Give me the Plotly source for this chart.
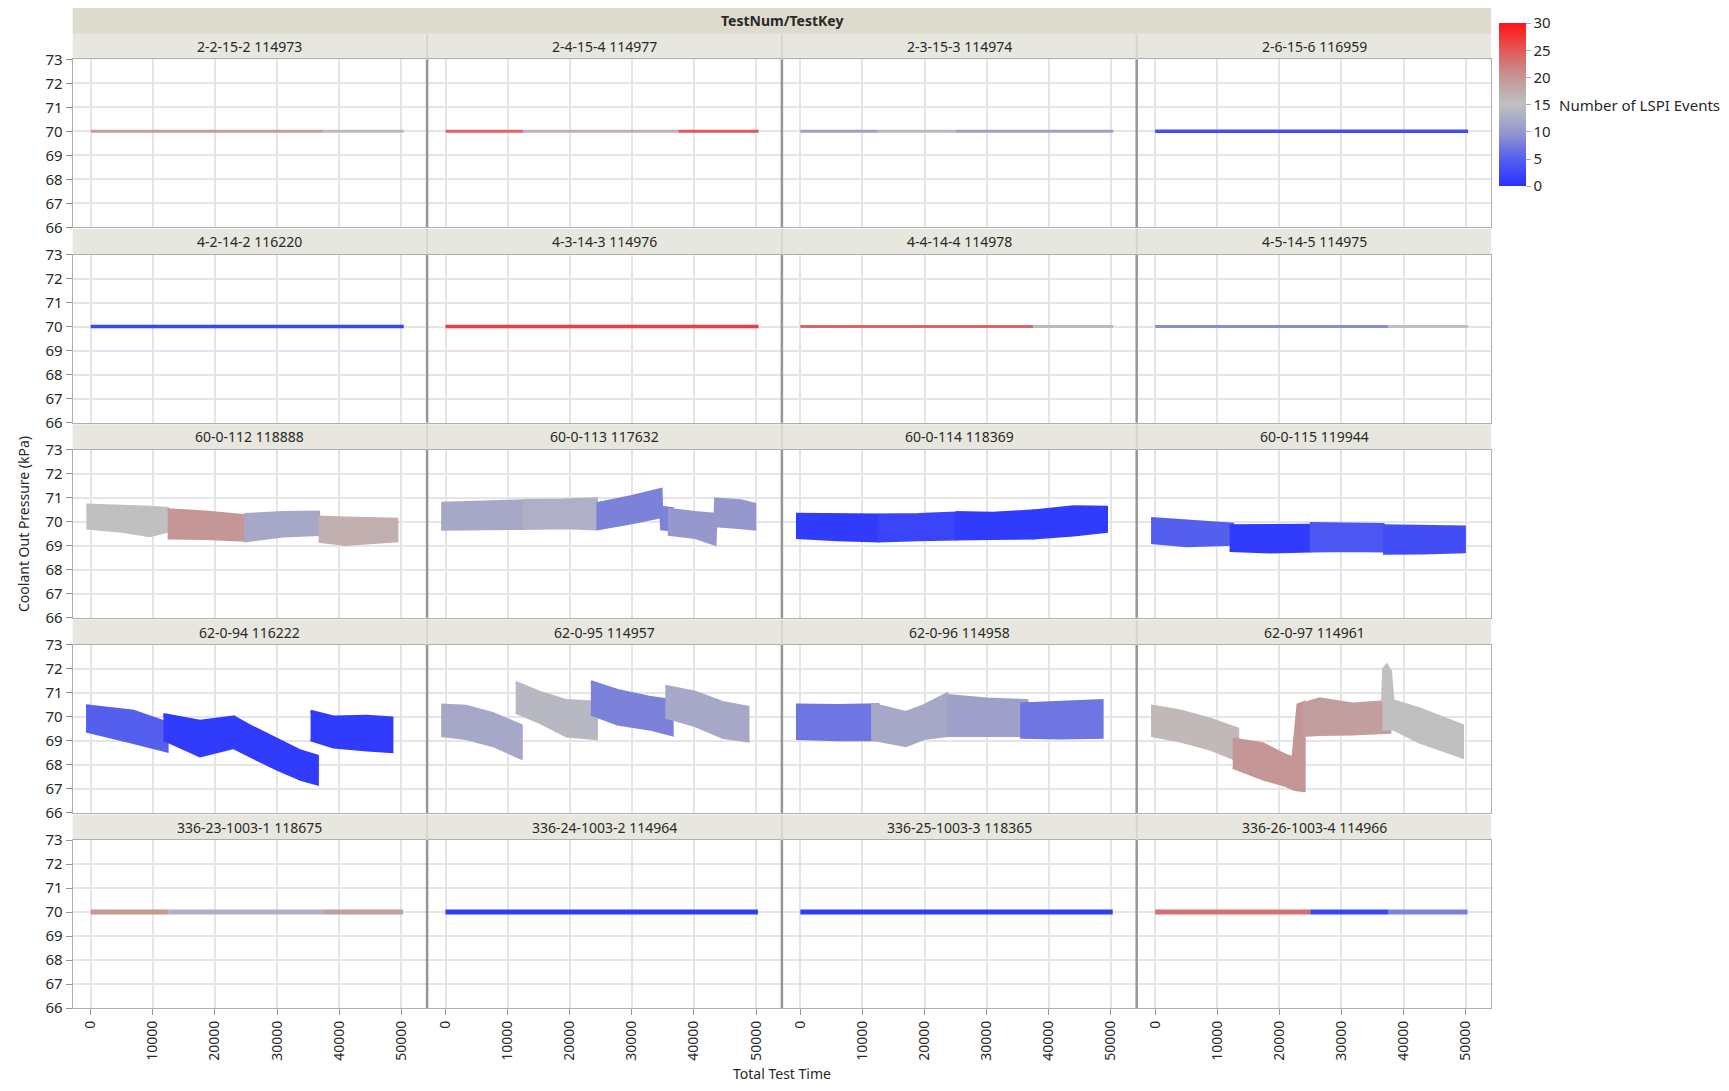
import plotly.graph_objects as go
from plotly.colors import sample_colorscale

PAGE_W, PAGE_H = 1729, 1091
BODY_MARGIN = 8
W, H = PAGE_W - 2 * BODY_MARGIN, PAGE_H - 2 * BODY_MARGIN

PANEL_TITLES = [
    "2-2-15-2 114973", "2-4-15-4 114977", "2-3-15-3 114974", "2-6-15-6 116959",
    "4-2-14-2 116220", "4-3-14-3 114976", "4-4-14-4 114978", "4-5-14-5 114975",
    "60-0-112 118888", "60-0-113 117632", "60-0-114 118369", "60-0-115 119944",
    "62-0-94 116222", "62-0-95 114957", "62-0-96 114958", "62-0-97 114961",
    "336-23-1003-1 118675", "336-24-1003-2 114964", "336-25-1003-3 118365", "336-26-1003-4 114966",
]
Y_TICKS = [66, 67, 68, 69, 70, 71, 72, 73]
X_TICKS = [0, 10000, 20000, 30000, 40000, 50000]
X_TICK_LABELS = ["0", "10000", "20000", "30000", "40000", "50000"]
LSPI_TICKS = [0, 5, 10, 15, 20, 25, 30]
LINE_LEVEL = 70.0

# thin-line panels: (LSPI events, start time, end time) at the constant pressure level
lines_2_2_15_2 = [(19, 0, 37500), (16, 37500, 50400)]
lines_2_4_15_4 = [(24, 0, 12500), (17, 12500, 37500), (25, 37500, 50400)]
lines_2_3_15_3 = [(11, 0, 12500), (14, 12500, 25000), (11, 25000, 50400)]
lines_2_6_15_6 = [(3, 0, 50400)]
lines_4_2_14_2 = [(2, 0, 50400)]
lines_4_3_14_3 = [(27, 0, 50400)]
lines_4_4_14_4 = [(24, 0, 37500), (16, 37500, 50400)]
lines_4_5_14_5 = [(9, 0, 37500), (15, 37500, 50400)]
lines_336_23 = [(20, 0, 12500), (13, 12500, 37500), (19, 37500, 50300)]
lines_336_24 = [(1, 0, 50300)]
lines_336_25 = [(1, 0, 50300)]
lines_336_26 = [(23, 0, 25000), (2, 25000, 37500), (8, 37500, 50300)]

# band panels: (LSPI events, times, upper pressure, lower pressure)
band_60_0_112 = [
    (15, [-700, 5000, 9500, 12400], [70.7, 70.65, 70.6, 70.55], [69.74, 69.6, 69.42, 69.6]),
    (20, [12400, 18500, 24700], [70.5, 70.4, 70.25], [69.32, 69.3, 69.23]),
    (12, [24700, 31000, 36700], [70.3, 70.38, 70.4], [69.2, 69.4, 69.46]),
    (17, [36700, 41000, 49300], [70.2, 70.15, 70.1], [69.19, 69.05, 69.2]),
]
band_60_0_113 = [
    (12, [-700, 6000, 12500], [70.77, 70.82, 70.87], [69.69, 69.7, 69.72]),
    (13, [12500, 19000, 24300], [70.88, 70.9, 70.95], [69.72, 69.75, 69.7]),
    (8, [24300, 30000, 34700, 34800, 36500], [70.75, 71.05, 71.35, 70.6, 70.55], [69.7, 69.95, 70.2, 69.7, 69.65]),
    (10, [35800, 40200, 43400, 43500, 47600, 49800], [70.52, 70.38, 70.31, 70.94, 70.87, 70.73], [69.48, 69.34, 69.06, 69.83, 69.75, 69.69]),
]
band_60_0_114 = [
    (1, [-700, 6000, 12500], [70.31, 70.3, 70.28], [69.34, 69.25, 69.2]),
    (2, [12500, 19000, 25000], [70.28, 70.3, 70.36], [69.2, 69.25, 69.28]),
    (1, [25000, 31000, 37500], [70.38, 70.35, 70.45], [69.28, 69.3, 69.32]),
    (1, [37500, 44000, 49300], [70.45, 70.62, 70.6], [69.32, 69.45, 69.6]),
]
band_60_0_115 = [
    (5, [-650, 5000, 12500], [70.13, 70.04, 69.9], [69.13, 69.0, 69.06]),
    (1, [12000, 18500, 24900], [69.83, 69.85, 69.85], [68.8, 68.74, 68.78]),
    (4, [24900, 31000, 36700], [69.92, 69.9, 69.88], [68.78, 68.8, 68.78]),
    (3, [36700, 43000, 49800], [69.83, 69.8, 69.78], [68.69, 68.7, 68.75]),
]
band_62_0_94 = [
    (5, [-750, 6900, 12300], [70.47, 70.24, 69.75], [69.41, 68.93, 68.58]),
    (1, [11700, 17600, 23000], [70.1, 69.82, 70.0], [69.06, 68.37, 68.72]),
    (1, [23000, 26200, 30000, 33800, 36500], [70.0, 69.55, 69.06, 68.58, 68.37], [68.72, 68.3, 67.82, 67.4, 67.2]),
    (1, [35400, 39100, 44500, 48500], [70.24, 70.0, 70.03, 69.96], [69.05, 68.75, 68.62, 68.55]),
]
band_62_0_95 = [
    (12, [-700, 3300, 7700, 12200], [70.5, 70.44, 70.13, 69.64], [69.22, 69.1, 68.8, 68.28]),
    (14, [11300, 15100, 19500, 24300], [71.44, 71.03, 70.68, 70.61], [70.19, 69.78, 69.2, 69.1]),
    (8, [23400, 27700, 32800, 36500], [71.47, 71.1, 70.82, 70.68], [70.12, 69.7, 69.5, 69.25]),
    (12, [35400, 40200, 44600, 48700], [71.28, 71.03, 70.6, 70.4], [69.99, 69.64, 69.15, 69.0]),
]
band_62_0_96 = [
    (7, [-700, 6000, 12500], [70.5, 70.47, 70.5], [69.1, 69.05, 69.05]),
    (12, [11400, 17000, 19900, 23600], [70.54, 70.19, 70.47, 70.96], [69.08, 68.8, 69.1, 69.22]),
    (11, [23600, 30000, 36500], [70.89, 70.75, 70.68], [69.22, 69.22, 69.22]),
    (7, [35400, 42000, 48600], [70.54, 70.62, 70.68], [69.15, 69.12, 69.15]),
]
band_62_0_97 = [
    (16, [-650, 3900, 8750, 13300], [70.45, 70.26, 69.92, 69.5], [69.22, 69.0, 68.67, 68.2]),
    (20, [12500, 17300, 21100, 22200, 23000, 24000], [69.08, 68.88, 68.39, 68.3, 70.5, 70.6], [67.9, 67.42, 67.14, 67.0, 66.95, 66.93]),
    (19, [23800, 26500, 31800, 37800], [70.54, 70.75, 70.54, 70.65], [69.22, 69.27, 69.29, 69.36]),
    (15, [36600, 36800, 37300, 37900, 38300, 42600, 49500], [70.6, 72.0, 72.15, 71.9, 70.68, 70.33, 69.64],
     [69.5, 69.5, 69.5, 69.5, 69.5, 68.95, 68.32]),
]

PANEL_DATA = [
    ("line", lines_2_2_15_2, 3), ("line", lines_2_4_15_4, 3), ("line", lines_2_3_15_3, 3), ("line", lines_2_6_15_6, 3.5),
    ("line", lines_4_2_14_2, 3.5), ("line", lines_4_3_14_3, 3.5), ("line", lines_4_4_14_4, 3), ("line", lines_4_5_14_5, 3),
    ("band", band_60_0_112, 0), ("band", band_60_0_113, 0), ("band", band_60_0_114, 0), ("band", band_60_0_115, 0),
    ("band", band_62_0_94, 0), ("band", band_62_0_95, 0), ("band", band_62_0_96, 0), ("band", band_62_0_97, 0),
    ("line", lines_336_23, 5), ("line", lines_336_24, 5), ("line", lines_336_25, 5), ("line", lines_336_26, 5),
]

LSPI_COLORSCALE = [
    [0.0, "rgb(40,50,255)"], [1 / 6, "rgb(85,95,238)"], [1 / 3, "rgb(150,152,205)"],
    [0.5, "rgb(192,192,192)"], [2 / 3, "rgb(196,150,150)"], [5 / 6, "rgb(226,88,88)"], [1.0, "rgb(255,20,20)"],
]


def lspi_color(n):
    return sample_colorscale(LSPI_COLORSCALE, [n / 30.0])[0]


# ---- layout geometry (page pixels) ----
COL_L0, COL_STEP, COL_W = 72.7, 354.8, 354.0
ROW_T0, ROW_STEP, ROW_H = 59.3, 195.2, 168.0
STRIP_H = 25.5
X_RANGE = [-2900, 54100]
FONT = "Noto Sans"
TXT = "rgb(40,40,40)"


def fx(p):
    return (p - BODY_MARGIN) / W


def fy(p):
    return 1 - (p - BODY_MARGIN) / H


fig = go.Figure()
layout = {}
shapes = []
annotations = []

for k in range(20):
    r, c = divmod(k, 4)
    L = COL_L0 + c * COL_STEP
    T = ROW_T0 + r * ROW_STEP
    xa = "x" if k == 0 else f"x{k + 1}"
    ya = "y" if k == 0 else f"y{k + 1}"
    kind, data, lw = PANEL_DATA[k]
    if kind == "line":
        for n, x0, x1 in data:
            col = lspi_color(n)
            fig.add_trace(go.Scatter(x=[x0, x1], y=[LINE_LEVEL, LINE_LEVEL], mode="lines",
                                     line=dict(color=col, width=lw), xaxis=xa, yaxis=ya,
                                     hoverinfo="skip", showlegend=False))
    else:
        for n, xs, up, lo in data:
            col = lspi_color(n)
            fig.add_trace(go.Scatter(x=xs + xs[::-1], y=up + lo[::-1], mode="lines", fill="toself",
                                     fillcolor=col, line=dict(color=col, width=3),
                                     xaxis=xa, yaxis=ya, hoverinfo="skip", showlegend=False))
    key = "" if k == 0 else str(k + 1)
    bottom = r == 4
    left = c == 0
    layout["xaxis" + key] = dict(
        domain=[fx(L), fx(L + COL_W)], range=X_RANGE, anchor=ya, tickvals=X_TICKS, ticktext=X_TICK_LABELS,
        showticklabels=bottom, ticks="outside" if bottom else "", ticklen=6,
        tickcolor="rgb(150,150,150)", tickangle=-90, tickfont=dict(family=FONT, size=14, color=TXT),
        showgrid=True, gridcolor="rgb(229,229,229)", gridwidth=2, zeroline=False,
        showline=True, mirror=True, linecolor="rgb(175,175,175)", linewidth=1,
    )
    layout["yaxis" + key] = dict(
        domain=[fy(T + ROW_H), fy(T)], range=[66, 73], anchor=xa, tickvals=Y_TICKS,
        showticklabels=left, ticks="outside" if left else "", ticklen=6,
        tickcolor="rgb(150,150,150)", tickfont=dict(family=FONT, size=15, color=TXT),
        showgrid=True, gridcolor="rgb(229,229,229)", gridwidth=2, zeroline=False,
        showline=True, mirror=True, linecolor="rgb(175,175,175)", linewidth=1,
    )
    # strip
    shapes.append(dict(type="rect", xref="paper", yref="paper", x0=fx(L), x1=fx(L + COL_W),
                       y0=fy(T), y1=fy(T - STRIP_H), fillcolor="rgb(232,231,223)", line=dict(width=0),
                       layer="below"))
    annotations.append(dict(xref="paper", yref="paper", x=fx(L + COL_W / 2), y=fy(T - STRIP_H / 2),
                            text=PANEL_TITLES[k], showarrow=False, xanchor="center", yanchor="middle",
                            font=dict(family=FONT, size=14, color=TXT)))
    if c < 3:
        xd = L + COL_W + 0.4
        shapes.append(dict(type="line", xref="paper", yref="paper", x0=fx(xd), x1=fx(xd),
                           y0=fy(T + ROW_H), y1=fy(T), line=dict(color="rgb(150,150,150)", width=2.5)))
        shapes.append(dict(type="line", xref="paper", yref="paper", x0=fx(xd), x1=fx(xd),
                           y0=fy(T), y1=fy(T - STRIP_H), line=dict(color="rgb(214,213,202)", width=2)))

# header
right_edge = COL_L0 + 3 * COL_STEP + COL_W
shapes.append(dict(type="rect", xref="paper", yref="paper", x0=fx(COL_L0), x1=fx(right_edge),
                   y0=fy(ROW_T0 - STRIP_H), y1=fy(8), fillcolor="rgb(221,219,205)", line=dict(width=0),
                   layer="below"))
annotations.append(dict(xref="paper", yref="paper", x=fx((COL_L0 + right_edge) / 2), y=fy(20.5),
                        text="<b>TestNum/TestKey</b>", showarrow=False, xanchor="center", yanchor="middle",
                        font=dict(family=FONT, size=14, color=TXT)))
annotations.append(dict(xref="paper", yref="paper", x=fx(23), y=fy(524), text="Coolant Out Pressure (kPa)",
                        showarrow=False, textangle=-90, xanchor="center", yanchor="middle",
                        font=dict(family=FONT, size=14, color=TXT)))
annotations.append(dict(xref="paper", yref="paper", x=fx((COL_L0 + right_edge) / 2), y=fy(1073),
                        text="Total Test Time", showarrow=False, xanchor="center", yanchor="middle",
                        font=dict(family=FONT, size=14, color=TXT)))
annotations.append(dict(xref="paper", yref="paper", x=fx(1557), y=fy(104.7), text="Number of LSPI Events",
                        showarrow=False, xanchor="left", yanchor="middle",
                        font=dict(family=FONT, size=15, color=TXT)))

# colour scale legend
fig.add_trace(go.Scatter(
    x=[None], y=[None], mode="markers", xaxis="x", yaxis="y", showlegend=False, hoverinfo="skip",
    marker=dict(color=[0], colorscale=LSPI_COLORSCALE, cmin=0, cmax=30, showscale=True,
                colorbar=dict(x=fx(1499.3), xanchor="left", y=fy(104.7), yanchor="middle",
                              len=(186 - 23.3) / H, lenmode="fraction", thickness=27,
                              thicknessmode="pixels", xpad=0, ypad=0, outlinewidth=0,
                              tickvals=LSPI_TICKS, ticks="outside", ticklen=5,
                              tickcolor="rgb(170,170,200)",
                              tickfont=dict(family=FONT, size=15, color=TXT))),
))

fig.update_layout(
    width=W, height=H, margin=dict(l=0, r=0, t=0, b=0, autoexpand=False),
    paper_bgcolor="white", plot_bgcolor="white", shapes=shapes, annotations=annotations,
    font=dict(family=FONT, color=TXT), **layout,
)
fig.write_html("out.html")
